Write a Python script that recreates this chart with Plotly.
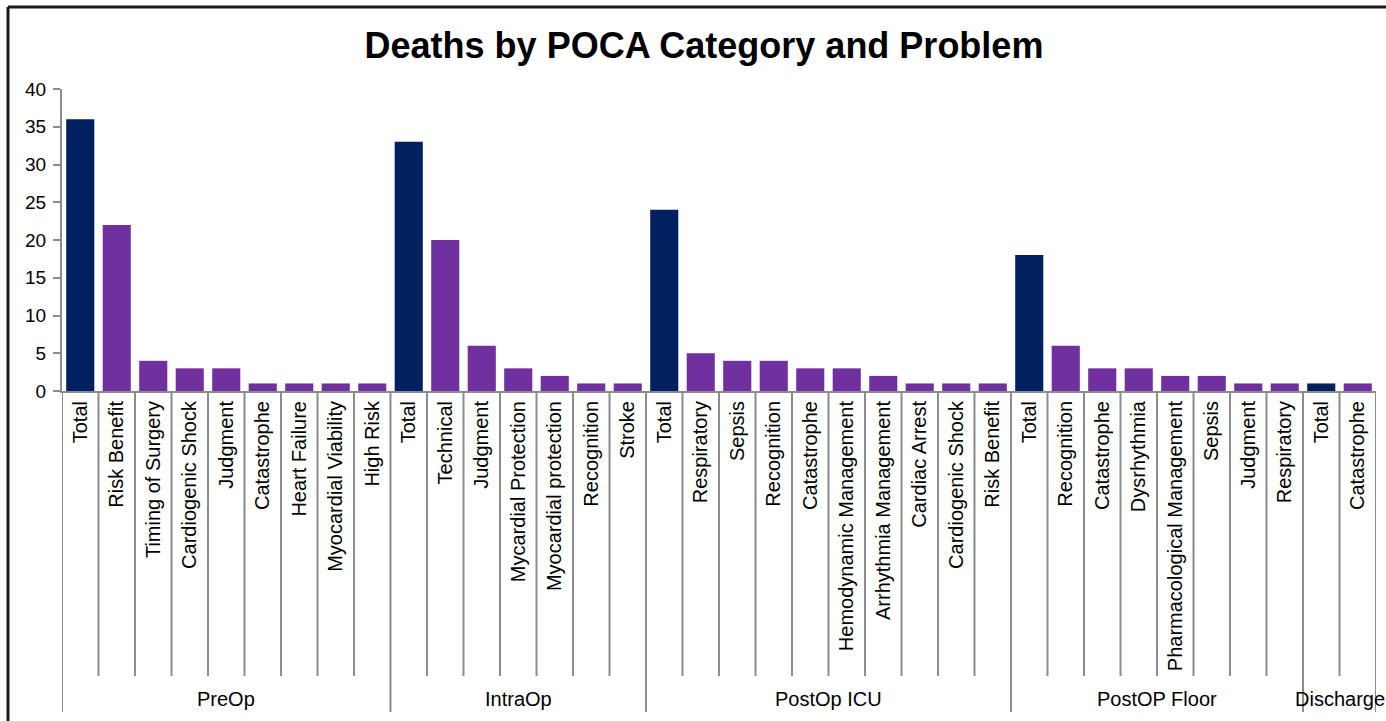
import plotly.graph_objects as go

# ---- data ----
groups = ["PreOp", "IntraOp", "PostOp ICU", "PostOP Floor", "Discharge"]
preop_labels = ["Total", "Risk Benefit", "Timing of Surgery", "Cardiogenic Shock", "Judgment",
                "Catastrophe", "Heart Failure", "Myocardial Viability", "High Risk"]
preop_values = [36, 22, 4, 3, 3, 1, 1, 1, 1]
intraop_labels = ["Total", "Technical", "Judgment", "Mycardial Protection", "Myocardial protection",
                  "Recognition", "Stroke"]
intraop_values = [33, 20, 6, 3, 2, 1, 1]
icu_labels = ["Total", "Respiratory", "Sepsis", "Recognition", "Catastrophe", "Hemodynamic Management",
              "Arrhythmia Management", "Cardiac Arrest", "Cardiogenic Shock", "Risk Benefit"]
icu_values = [24, 5, 4, 4, 3, 3, 2, 1, 1, 1]
floor_labels = ["Total", "Recognition", "Catastrophe", "Dysrhythmia", "Pharmacological Management",
                "Sepsis", "Judgment", "Respiratory"]
floor_values = [18, 6, 3, 3, 2, 2, 1, 1]
discharge_labels = ["Total", "Catastrophe"]
discharge_values = [1, 1]

group_labels = [preop_labels, intraop_labels, icu_labels, floor_labels, discharge_labels]
group_values = [preop_values, intraop_values, icu_values, floor_values, discharge_values]

# ---- build flat lists ----
labels, values, starts, ends = [], [], [], []
for lab, val in zip(group_labels, group_values):
    starts.append(len(labels))
    labels += lab
    values += val
    ends.append(len(labels))
xs = list(range(len(labels)))
NAVY = "#002060"
PURPLE = "#7030A0"
colors = [NAVY if l == "Total" else PURPLE for l in labels]

W, H = 1386, 721
L, R, T, B = 62, 10, 89, 330
ph = H - T - B
pw = W - L - R

def py(pix):  # pixel y -> paper y
    return (H - B - pix) / ph

def px(pix):
    return (pix - L) / pw

GRAY = "#8C8C8C"
FONT = "Liberation Sans, Arial"
fig = go.Figure(go.Bar(x=xs, y=values, marker=dict(color=colors, line=dict(width=0)),
                       width=0.77, hoverinfo="x+y"))

shapes = []
boundaries = set(starts) | set(ends)
for i in range(len(labels) + 1):
    is_group = i in boundaries
    shapes.append(dict(type="line", xref="x", yref="paper", x0=i - 0.5, x1=i - 0.5,
                       y0=0, y1=py(712 if is_group else 676),
                       line=dict(color=GRAY, width=2), layer="below"))
# outer chart border (top and left)
shapes.append(dict(type="line", xref="paper", yref="paper", x0=px(8), x1=px(W + 5), y0=py(7), y1=py(7),
                   line=dict(color="#1a1a1a", width=3)))
shapes.append(dict(type="line", xref="paper", yref="paper", x0=px(8), x1=px(8), y0=py(7), y1=py(H + 5),
                   line=dict(color="#1a1a1a", width=3)))

annotations = []
for g, s, e in zip(groups, starts, ends):
    annotations.append(dict(x=(s + e - 1) / 2, xref="x", y=py(699), yref="paper", text=g,
                            showarrow=False, xanchor="center", yanchor="middle",
                            font=dict(size=20, color="black", family=FONT)))

fig.update_layout(
    width=W, height=H, autosize=False,
    margin=dict(l=L, r=R, t=T, b=B),
    paper_bgcolor="white", plot_bgcolor="white",
    showlegend=False,
    font=dict(family=FONT, color="black"),
    title=dict(text="<b>Deaths by POCA Category and Problem</b>", x=704 / W, xanchor="center",
               xref="container", y=1 - 45 / H, yanchor="middle", yref="container",
               font=dict(size=36, color="black", family=FONT)),
    xaxis=dict(range=[-0.5, len(labels) - 0.5], tickmode="array", tickvals=xs, ticktext=labels,
               tickangle=-90, ticks="", showgrid=False, zeroline=False, showline=True,
               linecolor=GRAY, linewidth=2, tickfont=dict(size=20, color="black"), fixedrange=True),
    yaxis=dict(range=[0, 40], dtick=5, ticks="outside", ticklen=7, tickcolor=GRAY, tickwidth=2,
               showgrid=False, zeroline=False, showline=True, linecolor=GRAY, linewidth=2,
               ticklabelstandoff=3,
               tickfont=dict(size=19, color="black"), fixedrange=True),
    shapes=shapes, annotations=annotations,
    bargap=0.23,
)

fig.write_html("out.html")
